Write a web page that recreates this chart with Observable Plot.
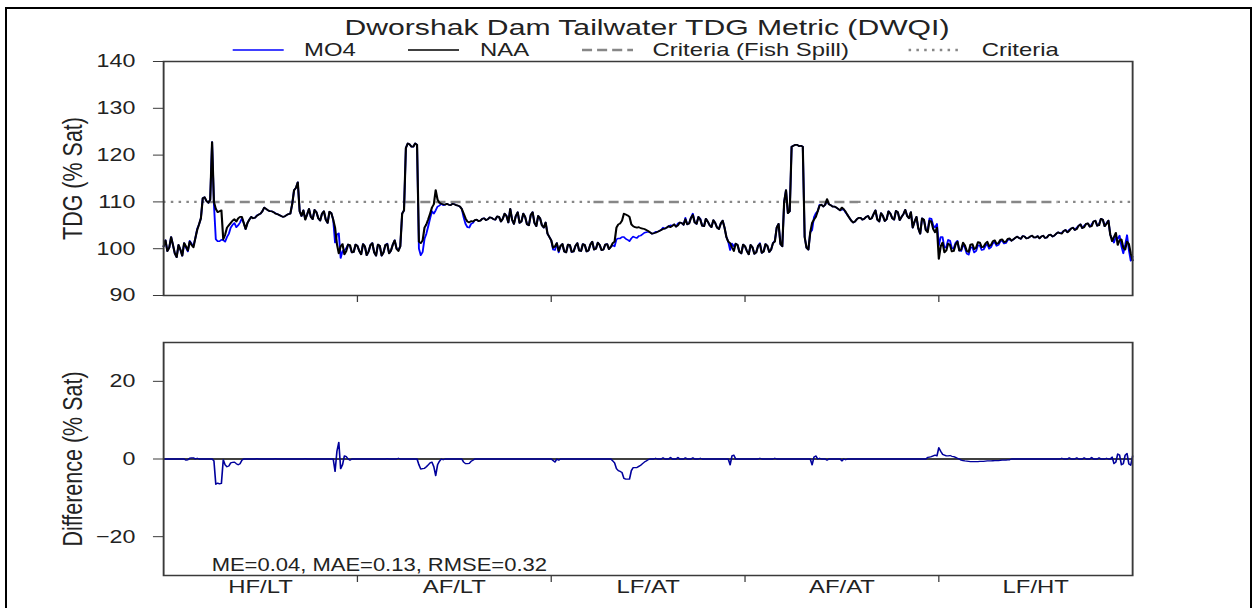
<!DOCTYPE html>
<html><head><meta charset="utf-8">
<script src="https://cdn.jsdelivr.net/npm/d3@7"></script>
<script src="https://cdn.jsdelivr.net/npm/@observablehq/plot@0.6"></script>
<style>
html,body{margin:0;padding:0;background:#fff;}
#page{position:relative;width:1257px;height:608px;overflow:hidden;}
#border{position:absolute;left:5px;top:7px;width:1243px;height:640px;border:2px solid #000;}
.layer{position:absolute;left:0;}
</style></head><body>
<div id="page"><div id="border"></div><div id="top" class="layer" style="top:0"></div><div id="bot" class="layer" style="top:320px"></div><div id="head" class="layer" style="top:0"></div></div>
<script>
// ---------------- data ----------------
const title = "Dworshak Dam Tailwater TDG Metric (DWQI)";
const scenarios = ["HF/LT", "AF/LT", "LF/AT", "AF/AT", "LF/HT"];
const yearBounds = [0, 52, 104, 156, 208, 260]; // week index of scenario boundaries
const tdgTicks = [90, 100, 110, 120, 130, 140];
const diffTicks = [-20, 0, 20];
const criteriaLevel = 110;
const fishSpillStart = [12.5, 65, 115.5, 168, 219.5];
const fishSpillEnd = [35, 82.5, 139.5, 186.5, 240];
const stats = "ME=0.04, MAE=0.13, RMSE=0.32";
const legendLabels = ["MO4", "NAA", "Criteria (Fish Spill)", "Criteria"];

// NAA TDG (% Sat) at whole weeks 0..260
const naa = [
  100.5, 99.5, 102.5, 99, 100.8, 98.5, 100.5, 101.5, 100.3, 104,
  106.5, 111, 109.8, 122.8, 108.5, 108, 102, 104.5, 105.5, 106.3,
  106.5, 106.8, 104.2, 106.2, 106.5, 107, 107.5, 108.8, 108.2, 108,
  107.5, 107.2, 106.8, 107.2, 107.5, 112.5, 114.2, 107, 106.2, 108.5,
  106.3, 107.8, 106, 108, 105.5, 107.6, 104.5, 99, 101, 99.5,
  100.8, 99.3,
  100.6, 98.8, 100.5, 99.4, 101.2, 98.5, 100.6, 99.2, 101, 99.6,
  101.8, 99.5, 107.5, 121.5, 122.3, 121.8, 122.2, 101.2, 104.5, 106.3,
  108.8, 112.5, 109.8, 109.5, 109.6, 109.3, 109.5, 109.2, 108.5, 106.5,
  105.6, 105.8, 106.2, 106, 106.5, 106.3, 106.6, 106.2, 106.8, 106.4,
  107, 108.5, 105.3, 107.8, 105.8, 106.8, 105, 107.8, 104.8, 106.5,
  104.5, 103.2,
  101.8, 100.5, 99.5, 101, 99.2, 100.8, 99.4, 101.2, 99.5, 100.8,
  99.6, 101.5, 100, 100.8, 99.8, 101, 100.4, 101.5, 105.2, 106,
  107.3, 106.8, 104.8, 104.5, 104.4, 104.2, 103.8, 103.2, 103.4, 103.8,
  104.2, 104.5, 104.6, 105.2, 105, 105.5, 106.3, 105.4, 107.2, 105.3,
  106.2, 104.8, 105.8, 104.6, 105.5, 104.2, 106, 102.5, 101.2, 99.5,
  100.8, 99,
  100.5, 98.8, 100.3, 99.2, 101, 99.4, 100.6, 99.8, 101.5, 105.3,
  100.5, 112.5, 108, 122, 122.2, 122, 102.5, 99.8, 105.5, 106.8,
  109.2, 109, 110.6, 109.3, 109, 108.5, 108.8, 107.9, 106.6, 105.6,
  106.3, 106.6, 106.4, 107, 106.5, 108.2, 105.8, 107, 106.3, 107.5,
  106.2, 107.8, 106.8, 108.3, 106.5, 104.5, 106.8, 103.2, 106.2, 103.5,
  105.8, 103.5,
  97.8, 101.3, 99.6, 100.8, 99.5, 101.5, 99.8, 100.7, 99.3, 101,
  100.2, 101.3, 100.4, 101.5, 100.8, 101.8, 101.2, 102, 101.5, 102.2,
  102, 102.6, 102.1, 102.6, 102.3, 102.8, 102.4, 102.2, 102.8, 102.4,
  103, 102.8, 103.5, 103.2, 104, 103.8, 104.5, 104.2, 105.2, 104.6,
  105.4, 104.8, 106, 105, 106.2, 105.3, 103, 102.5, 100.8, 102,
  99.8, 101, 97.5
];
// NAA TDG (% Sat) at half weeks 0.5..259.5
const naaHalf = [
  101.8, 100.2, 100.8, 98.2, 99.8, 101.2, 99.6, 100.8, 102.2, 105.2,
  110.8, 110.2, 110.5, 110, 107.8, 108.2, 103, 105, 106, 105.8,
  106.8, 105.5, 105.5, 106.8, 106.6, 107.3, 108, 108.5, 108, 107.8,
  107.4, 107, 106.9, 107.4, 109.5, 113, 108, 108.2, 107.3, 106.8,
  108.3, 106.5, 107.5, 106.2, 107.9, 106.2, 101, 100.5, 98.8, 100.9,
  99.2, 100.9,
  99.5, 101, 98.6, 100.8, 99.2, 100.9, 98.5, 100.8, 99, 100.9,
  100, 100.5, 108.2, 122.5, 121.8, 122.5, 101.5, 101.8, 105.2, 107.5,
  109.5, 110.5, 109.6, 109.4, 109.4, 109.6, 109.3, 109, 107.5, 105.8,
  105.9, 106.1, 105.9, 106.4, 106.1, 106.7, 106.3, 106.9, 105.8, 107.5,
  105.6, 106.2, 107, 105.5, 107.5, 105.2, 107.2, 105.5, 107, 105,
  105.6, 102.5,
  100.2, 101.2, 100.6, 99.4, 100.9, 99.3, 100.6, 99.6, 101, 99.4,
  100.9, 99.8, 101.3, 99.7, 100.9, 99.9, 101.2, 104.5, 105.4, 107.5,
  107.1, 105.2, 104.6, 104.6, 104.3, 104, 103.5, 103.3, 103.6, 104,
  104.3, 104.8, 104.9, 104.7, 105.6, 105.1, 105.2, 106.6, 105.6, 106.8,
  104.9, 106.4, 105, 106.1, 104.5, 105.4, 104.5, 101.5, 100.3, 101.1,
  99.3, 100.9,
  99.5, 100.8, 98.9, 100.6, 99.1, 101, 99.3, 101.2, 104.5, 101,
  110, 107.6, 121.8, 122.2, 121.9, 121.8, 100.2, 103.5, 106.2, 108,
  109.4, 109.4, 109.5, 109, 108.8, 108.2, 108.4, 107.2, 106, 105.8,
  106.6, 106.2, 106.8, 106.3, 107.4, 106.2, 107.6, 105.9, 108, 106.5,
  108.1, 106.1, 107.4, 107, 107.8, 105.8, 104.3, 106.5, 104, 106,
  104.2, 104.5,
  100.5, 99.2, 101.1, 99.4, 100.9, 99.6, 101.3, 99.5, 100.9, 99.9,
  101.4, 100.3, 101.1, 100.5, 101.6, 101, 101.9, 101.4, 102.1, 101.7,
  102.3, 102.3, 102.7, 102.2, 102.6, 102.4, 102.7, 102.6, 102.3, 102.9,
  102.6, 103.2, 103.3, 103.8, 103.5, 104.3, 104, 104.9, 104.4, 105.3,
  104.7, 105.8, 104.9, 106.4, 104.8, 106, 101.6, 103.4, 101.8, 100.2,
  101.5, 99
];

// MO4 - NAA difference (% Sat), at the weeks where it is not zero
const diffPos = [6, 6.5, 7, 7.5, 8, 9,
  13.5, 14, 14.5, 15, 15.5, 16, 16.5, 17, 17.5, 18, 18.5, 19, 19.5, 20, 20.5, 21, 25, 30, 38,
  46, 46.5, 47, 47.5, 48, 48.5, 49, 50, 60, 63,
  68.5, 69, 69.5, 70, 70.5, 71, 71.5, 72, 72.5, 73, 73.5, 74, 75, 80.5, 81, 81.5, 82, 82.5, 83,
  104.5, 105, 106,
  120.5, 121, 121.5, 122, 122.5, 123, 123.5, 124, 124.5, 125, 125.5, 126, 126.5, 127, 127.5, 128, 128.5, 129, 129.5, 130,
  132, 134, 136, 138, 140, 142, 144, 152, 152.5, 153,
  160, 164, 174, 174.5, 175, 176, 178, 182, 183,
  205, 205.5, 206, 206.5, 207, 207.5, 208, 208.5, 209, 209.5, 210, 210.5, 211, 211.5, 212, 212.5, 213,
  214, 214.5, 215, 215.5, 216, 216.5, 217, 217.5, 218, 218.5, 219, 219.5, 220, 220.5, 221, 221.5,
  222, 222.5, 223, 223.5, 224, 224.5, 225, 225.5, 226, 226.5, 227,
  241, 243, 245, 247, 249, 251, 253, 254.5, 255, 255.5, 256, 256.5, 257, 257.5, 258, 258.5, 259, 259.5, 260];
const diffVal = [-0.3, -0.2, 0.2, 0.3, 0.3, 0.2,
  -0.5, -6.5, -6.2, -6.4, -6.3, -0.2, -1.5, -2, -1.8, -1, -0.9, -0.8, -1.2, -1.5, -1.2, -0.3, 0.1, 0.1, 0.1,
  -3.2, 2, 4.3, -2.5, -1.5, 0.8, 0.6, -0.3, 0.1, 0.2,
  -1.5, -2.6, -2.5, -2.4, -2, -1.5, -1, -0.8, -2, -4.3, -1.5, -0.6, -0.2, -0.8, -1.2, -1.2, -1.1, -0.6, -0.3,
  -0.4, -0.8, -0.3,
  -0.5, -1, -2.5, -3, -3.2, -3.5, -5, -5.2, -5.2, -5.2, -3, -2.2, -2.2, -2.2, -1.9, -1.6, -1.2, -0.8, -0.5, -0.2,
  0.2, 0.3, 0.4, 0.4, 0.3, 0.3, 0.2, -1.5, 0.8, 1,
  0.2, 0.2, -1.5, 0.5, 0.8, 0.2, -0.3, -0.5, -0.2,
  0.4, 0.5, 0.6, 0.8, 1, 0.8, 2.9, 2, 1.2, 1, 0.8, 0.8, 0.9, 0.7, 0.6, 0.4, 0.2,
  -0.3, -0.4, -0.5, -0.55, -0.6, -0.65, -0.7, -0.7, -0.7, -0.65, -0.6, -0.6, -0.6, -0.55, -0.5, -0.5,
  -0.5, -0.45, -0.4, -0.4, -0.4, -0.35, -0.3, -0.3, -0.3, -0.25, -0.2,
  0.2, 0.3, 0.3, 0.3, 0.4, 0.3, 0.2, 0.5, -1.2, -0.8, 1.3, 1, -1.5, -1.2, 1, 1.4, -1.3, -1.6, 0.8];

// ---------------- build ----------------
const S = 1.257;           // horizontal stretch of the reference image
const W = 1000;            // internal width (W*S = 1257 px on the page)
const FONT = '"Liberation Sans", Arial, Helvetica, sans-serif';
const TXT = "#222";
const CRIT = "#878787";

const diffAt = new Map(diffPos.map((p, i) => [p, diffVal[i]]));
const rows = [];
naa.forEach((v, i) => {
  rows.push({week: i, naa: v});
  if (i < naaHalf.length) rows.push({week: i + 0.5, naa: naaHalf[i]});
});
rows.forEach(r => { r.diff = diffAt.get(r.week) || 0; r.mo4 = +(r.naa + r.diff).toFixed(2); });

const spill = fishSpillStart.map((s, i) => ({x1: s, x2: fishSpillEnd[i]}));
const normal = [];
let prev = yearBounds[0];
spill.forEach(s => { normal.push({x1: prev, x2: s.x1}); prev = s.x2; });
normal.push({x1: prev, x2: yearBounds[yearBounds.length - 1]});
const mids = scenarios.map((_, i) => (yearBounds[i] + yearBounds[i + 1]) / 2);
const inner = yearBounds.slice(1, -1);
const xDomain = [yearBounds[0], yearBounds[yearBounds.length - 1]];

function stretch(svg, H) {
  svg.setAttribute("width", W * S);
  svg.setAttribute("height", H);
  svg.setAttribute("viewBox", `0 0 ${W} ${H}`);
  svg.setAttribute("preserveAspectRatio", "none");
  svg.style.width = (W * S) + "px";
  svg.style.height = H + "px";
  svg.style.maxWidth = "none";
  svg.style.background = "transparent";
  svg.style.display = "block";
  svg.style.overflow = "visible";
  return svg;
}

const mL = 163 / S, mR = (1257 - 1132) / S;
const frameColor = "#3a3a3a";
const style = {fontFamily: FONT, fontSize: "18.5px", color: TXT, background: "transparent"};

const topH = 320;
const topPlot = Plot.plot({
  width: W, height: topH, marginLeft: mL, marginRight: mR, marginTop: 61, marginBottom: topH - 295,
  style,
  x: {domain: xDomain},
  y: {domain: [tdgTicks[0], tdgTicks[tdgTicks.length - 1]]},
  marks: [
    Plot.ruleY(normal, {y: () => criteriaLevel, x1: "x1", x2: "x2", stroke: CRIT, strokeWidth: 2.3, strokeDasharray: "2,4.2"}),
    Plot.ruleY(spill, {y: () => criteriaLevel, x1: "x1", x2: "x2", stroke: CRIT, strokeWidth: 2.5, strokeDasharray: "8,4"}),
    Plot.lineY(rows, {x: "week", y: "mo4", stroke: "#0000ff", strokeWidth: 1.5}),
    Plot.lineY(rows, {x: "week", y: "naa", stroke: "#000", strokeWidth: 1.7}),
    Plot.axisY({ticks: tdgTicks, tickSize: 8, tickPadding: 14.5, fontSize: 18.5, label: null, stroke: frameColor}),
    Plot.axisX({ticks: inner, tickSize: 7, tickFormat: () => "", label: null, stroke: frameColor}),
    Plot.frame({stroke: frameColor, strokeWidth: 1.5}),
    Plot.text(["TDG (% Sat)"], {text: d => d, frameAnchor: "left", textAnchor: "middle", lineAnchor: "middle",
      rotate: -90, dx: -72, fontSize: 21.5, fill: TXT})
  ]
});
document.getElementById("top").appendChild(stretch(topPlot, topH));

const botH = 285;
const botPlot = Plot.plot({
  width: W, height: botH, marginLeft: mL, marginRight: mR, marginTop: 22, marginBottom: botH - 255,
  style,
  x: {domain: xDomain},
  y: {domain: [-30, 30]},
  marks: [
    Plot.ruleY([0], {stroke: "#000", strokeWidth: 1.5}),
    Plot.lineY(rows, {x: "week", y: "diff", stroke: "#00009c", strokeWidth: 1.3}),
    Plot.axisY({ticks: diffTicks, tickSize: 8, tickPadding: 14.5, fontSize: 18.5, label: null, stroke: frameColor,
      tickFormat: d => d < 0 ? "\u2212" + Math.abs(d) : String(d)}),
    Plot.axisX({ticks: inner, tickSize: 7, tickFormat: () => "", label: null, stroke: frameColor}),
    Plot.axisX({ticks: mids, tickSize: 0, tickPadding: 4, fontSize: 19, label: null,
      tickFormat: d => scenarios[mids.indexOf(d)]}),
    Plot.frame({stroke: frameColor, strokeWidth: 1.5}),
    Plot.text([stats], {text: d => d, frameAnchor: "bottom-left", dx: (211 - 163) / S, dy: -5,
      textAnchor: "start", lineAnchor: "bottom", fontSize: 17.5, fill: TXT}),
    Plot.text(["Difference (% Sat)"], {text: d => d, frameAnchor: "left", textAnchor: "middle", lineAnchor: "middle",
      rotate: -90, dx: -72, fontSize: 21.5, fill: TXT})
  ]
});
document.getElementById("bot").appendChild(stretch(botPlot, botH));

// ---------------- title & legend ----------------
const headH = 70;
const head = d3.create("svg")
  .attr("width", W * S).attr("height", headH)
  .attr("viewBox", `0 0 ${W} ${headH}`).attr("preserveAspectRatio", "none")
  .style("display", "block").style("font-family", FONT);
head.append("text")
  .attr("transform", `translate(${647 / S},35) scale(1.09,1)`)
  .attr("text-anchor", "middle").attr("font-size", 22).attr("fill", TXT)
  .text(title);
const legStyle = [
  {stroke: "#0000ff", dash: null, width: 1.5},
  {stroke: "#000", dash: null, width: 1.5},
  {stroke: CRIT, dash: "8,4", width: 2.5},
  {stroke: CRIT, dash: "2,4.2", width: 2.3}
];
const legSwatchX = [232.7, 408, 582, 908.6];
const legTextX = [304, 480, 652.5, 981.8];
legendLabels.forEach((lab, i) => {
  head.append("line")
    .attr("x1", legSwatchX[i] / S).attr("x2", (legSwatchX[i] + 51) / S)
    .attr("y1", 50).attr("y2", 50)
    .attr("stroke", legStyle[i].stroke).attr("stroke-width", legStyle[i].width)
    .attr("stroke-dasharray", legStyle[i].dash);
  head.append("text")
    .attr("x", legTextX[i] / S).attr("y", 56.5)
    .attr("font-size", 19).attr("fill", TXT)
    .text(lab);
});
document.getElementById("head").appendChild(head.node());
</script></body></html>
